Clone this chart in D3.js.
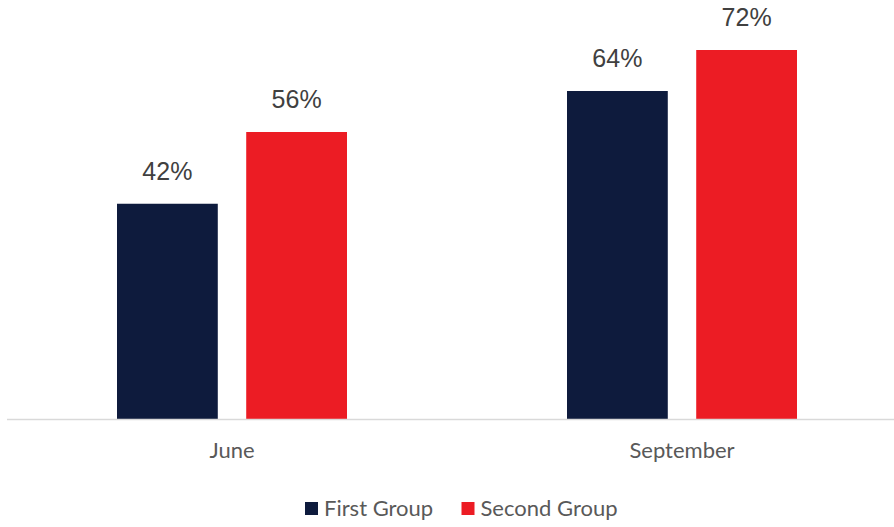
<!DOCTYPE html>
<html><head><meta charset="utf-8">
<script src="https://cdn.jsdelivr.net/npm/d3@7"></script>
<style>body{margin:0;background:#fff}svg{display:block}</style>
</head><body>
<svg id="c" width="894" height="527"></svg>
<script>
const categories = ["June", "September"];
const seriesNames = ["First Group", "Second Group"];
const firstGroup = [42, 64];
const secondGroup = [56, 72];
const colors = ["#0e1b3d", "#ec1c24"];

const svg = d3.select("#c");
const values = [firstGroup, secondGroup];

const x0 = d3.scaleBand().domain(categories).range([7, 907]).paddingInner(0).paddingOuter(0);
const groupPad = 110;
const x1 = d3.scaleBand().domain(seriesNames).range([groupPad, x0.bandwidth() - groupPad]).paddingInner(0.22);
const y = d3.scaleLinear().domain([0, 80]).range([419, 9]);

const g = svg.append("g");
categories.forEach((cat, ci) => {
  seriesNames.forEach((s, si) => {
    const v = values[si][ci];
    const bx = x0(cat) + x1(s);
    g.append("rect").attr("x", bx).attr("y", y(v)).attr("width", x1.bandwidth())
      .attr("height", y(0) - y(v)).attr("fill", colors[si]);
    g.append("text").attr("x", bx + x1.bandwidth() / 2).attr("y", y(v) - 24)
      .attr("text-anchor", "middle").attr("font-family", "Liberation Sans, Arial, sans-serif")
      .attr("font-size", 25).attr("fill", "#404040").text(v + "%");
  });
});

// axis
const xAxis = d3.axisBottom(x0).tickSize(0).tickPadding(0);
const ax = svg.append("g").attr("transform", `translate(0,${y(0)})`).call(xAxis);
ax.select(".domain").remove();
ax.append("line").attr("x1", 7).attr("x2", 894).attr("y1", 0.5).attr("y2", 0.5)
  .attr("stroke", "#d9d9d9").attr("stroke-width", 1.5);
ax.selectAll(".tick text").attr("dy", 0).attr("y", 39)
  .attr("font-family", "Lato, Open Sans, sans-serif").attr("font-size", 22).attr("fill", "#595959");

// legend
const legend = svg.append("g");
const legendX = [305, 461.5];
seriesNames.forEach((s, i) => {
  const lg = legend.append("g").attr("transform", `translate(${legendX[i]},502)`);
  lg.append("rect").attr("width", 13).attr("height", 13).attr("fill", colors[i]);
  lg.append("text").attr("x", 19).attr("y", 14).attr("font-family", "Lato, Open Sans, sans-serif")
    .attr("font-size", 22).attr("fill", "#595959").text(s);
});
</script>
</body></html>
